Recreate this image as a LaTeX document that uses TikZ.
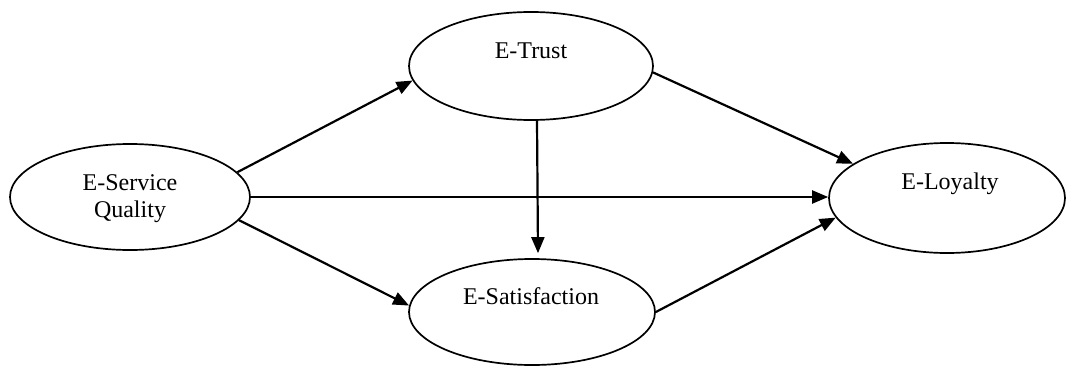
\documentclass[tikz,border=0pt]{standalone}
\usepackage{fontspec}
\setmainfont{Liberation Serif}
\usetikzlibrary{shapes.geometric,arrows.meta}
\tikzset{
  oval/.style={ellipse, draw=black, line width=1.7pt, inner sep=0pt, fill=white},
  lbl/.style={anchor=base, inner sep=0pt, align=center, font=\fontsize{24}{27}\selectfont},
  arr/.style={line width=2.2pt, -{Triangle[length=16pt,width=13pt]}}
}
\begin{document}
\begin{tikzpicture}[x=1pt,y=-1pt]
\useasboundingbox (0,0) rectangle (1067,367);
\node[oval, minimum width=240pt, minimum height=106pt] (esq) at (130,197) {};
\node[oval, minimum width=244pt, minimum height=108pt] (et) at (531,66) {};
\node[oval, minimum width=246pt, minimum height=106pt] (es) at (532,312) {};
\node[oval, minimum width=236pt, minimum height=110pt] (el) at (947,198) {};
\node[lbl] (tesq) at (130,217) {E-Service\\Quality};
\node[lbl] (tet) at (531,58) {E-Trust};
\node[lbl] (tes) at (531,304) {E-Satisfaction};
\node[lbl] (tel) at (950,189) {E-Loyalty};
\draw[arr] (esq.13) -- (et.187);
\draw[arr] (esq.east) -- (esq.east -| el.west);
\draw[arr] (esq.-12) -- (es.177);
\draw[arr] (et.-3) -- (el.160);
\draw[arr] (es.east) -- (el.190);
\draw[arr] ([xshift=6pt]et.south) -- ([xshift=6pt,yshift=5pt]es.north);
\end{tikzpicture}
\end{document}
